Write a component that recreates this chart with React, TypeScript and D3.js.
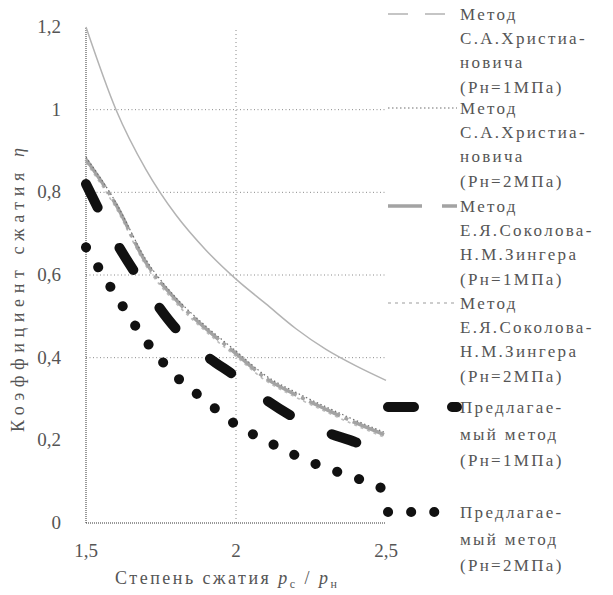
import React, { useRef, useEffect } from 'react';
import * as d3 from 'd3';

// compression ratio p_c / p_н
const ratios = [1.5, 1.6, 1.7, 1.8, 1.9, 2.0, 2.1, 2.2, 2.3, 2.4, 2.5];

const khristianovich1 = [1.2, 1.0, 0.855, 0.745, 0.66, 0.59, 0.53, 0.47, 0.42, 0.38, 0.345];
const khristianovich2 = [0.885, 0.775, 0.637, 0.545, 0.476, 0.416, 0.356, 0.316, 0.281, 0.248, 0.218];
const sokolov1 = [0.88, 0.77, 0.63, 0.54, 0.47, 0.41, 0.35, 0.31, 0.275, 0.242, 0.212];
const sokolov2 = [0.872, 0.762, 0.622, 0.532, 0.463, 0.403, 0.344, 0.304, 0.269, 0.236, 0.206];
const proposed1 = [0.82, 0.68, 0.567, 0.47, 0.405, 0.354, 0.298, 0.253, 0.22, 0.195, 0.163];
const proposed2 = [0.667, 0.55, 0.44, 0.355, 0.295, 0.238, 0.199, 0.163, 0.133, 0.109, 0.08];

const legendLabels = [
  ['Метод', 'С.А.Христиа-', 'новича', '(Рн=1МПа)'],
  ['Метод', 'С.А.Христиа-', 'новича', '(Рн=2МПа)'],
  ['Метод', 'Е.Я.Соколова-', 'Н.М.Зингера', '(Рн=1МПа)'],
  ['Метод', 'Е.Я.Соколова-', 'Н.М.Зингера', '(Рн=2МПа)'],
  ['Предлагае-', 'мый метод', '(Рн=1МПа)'],
  ['Предлагае-', 'мый метод', '(Рн=2МПа)'],
];

const yTicks = [0, 0.2, 0.4, 0.6, 0.8, 1, 1.2];
const yGrid = [0.4, 0.6, 0.8, 1];
const xTicks = [1.5, 2, 2.5];

const FONT = 'Liberation Serif, DejaVu Serif, Noto Serif, Tinos, FreeSerif, Times New Roman, Times, serif';
const TEXT = '#555';

const App = () => {
  const svgRef = useRef(null);

  useEffect(() => {
    const svg = d3.select(svgRef.current);
    svg.selectAll('*').remove();

    const width = 613;
    const height = 595;
    const margin = { top: 27, left: 86 };
    const plotW = 300;
    const plotH = 496;

    svg.attr('width', width).attr('height', height);

    const x = d3.scaleLinear().domain([1.5, 2.5]).range([margin.left, margin.left + plotW]);
    const y = d3.scaleLinear().domain([0, 1.2]).range([margin.top + plotH, margin.top]);
    const fmt = (v) => String(v).replace('.', ',');

    // grid
    svg.append('g')
      .selectAll('line')
      .data(yGrid)
      .join('line')
      .attr('x1', x(1.5)).attr('x2', x(2.5))
      .attr('y1', d => y(d)).attr('y2', d => y(d))
      .attr('stroke', '#8a8a8a')
      .attr('stroke-width', 1)
      .attr('stroke-dasharray', '1,2.5');

    svg.append('line')
      .attr('x1', x(2)).attr('x2', x(2))
      .attr('y1', y(0)).attr('y2', y(1.2))
      .attr('stroke', '#8a8a8a')
      .attr('stroke-dasharray', '1,3');

    // axes (dotted, like the scan)
    svg.append('line')
      .attr('x1', x(1.5)).attr('x2', x(1.5))
      .attr('y1', y(0)).attr('y2', y(1.2))
      .attr('stroke', '#333')
      .attr('stroke-dasharray', '1,1');
    svg.append('line')
      .attr('x1', x(1.5)).attr('x2', x(2.5))
      .attr('y1', y(0)).attr('y2', y(0))
      .attr('stroke', '#333')
      .attr('stroke-dasharray', '1,1');

    // tick labels
    svg.append('g')
      .selectAll('text')
      .data(yTicks)
      .join('text')
      .attr('x', 61)
      .attr('y', d => y(d) + 6)
      .attr('text-anchor', 'end')
      .attr('font-family', FONT)
      .attr('font-size', 19)
      .attr('fill', TEXT)
      .text(fmt);

    svg.append('g')
      .selectAll('text')
      .data(xTicks)
      .join('text')
      .attr('x', d => x(d))
      .attr('y', 557)
      .attr('text-anchor', 'middle')
      .attr('font-family', FONT)
      .attr('font-size', 19)
      .attr('fill', TEXT)
      .text(fmt);

    // series
    const series = [
      { values: khristianovich1, color: '#b3b3b3', w: 1.5, dash: null, legendDash: '20,17', cap: 'butt' },
      { values: sokolov2, color: '#bdbdbd', w: 1.6, dash: '3,4', legendDash: '3,4', cap: 'butt' },
      { values: sokolov1, color: '#a3a3a3', w: 3.5, dash: '34,5,4,5', legendDash: '34,20', cap: 'butt' },
      { values: khristianovich2, color: '#6e6e6e', w: 1.2, dash: '1.5,2.5', legendDash: '1.5,2.5', cap: 'butt' },
      { values: proposed1, color: '#111', w: 10, dash: '26,46', legendDash: '26,38', cap: 'round' },
      { values: proposed2, color: '#111', w: 10, dash: '0.1,23', legendDash: '0.1,23', cap: 'round' },
    ];
    const legendOrder = [khristianovich1, khristianovich2, sokolov1, sokolov2, proposed1, proposed2];

    const line = d3.line()
      .x((d, i) => x(ratios[i]))
      .y(d => y(d))
      .curve(d3.curveMonotoneX);

    svg.append('g')
      .selectAll('path')
      .data(series)
      .join('path')
      .attr('d', d => line(d.values))
      .attr('fill', 'none')
      .attr('stroke', d => d.color)
      .attr('stroke-width', d => d.w)
      .attr('stroke-dasharray', d => d.dash)
      .attr('stroke-linecap', d => d.cap);

    // legend
    const entryTops = [14, 108, 206, 303, 407, 512];
    const legend = svg.append('g');
    legendOrder.forEach((vals, i) => {
      const s = series.find(d => d.values === vals);
      const y0 = entryTops[i];
      const rowH = i < 4 ? 24.2 : 26.5;
      const g = legend.append('g');
      g.append('line')
        .attr('x1', 388).attr('x2', 457)
        .attr('y1', y0).attr('y2', y0)
        .attr('stroke', s.color)
        .attr('stroke-width', s.w)
        .attr('stroke-dasharray', s.legendDash)
        .attr('stroke-linecap', s.cap);
      g.append('g')
        .selectAll('text')
        .data(legendLabels[i])
        .join('text')
        .attr('x', 460)
        .attr('y', (d, j) => y0 + 6 + j * rowH)
        .attr('font-family', FONT)
        .attr('font-size', 17)
        .attr('letter-spacing', 2.3)
        .attr('fill', TEXT)
        .text(d => d);
    });

    // axis titles
    const xt = svg.append('text')
      .attr('x', 226)
      .attr('y', 584)
      .attr('text-anchor', 'middle')
      .attr('textLength', 222)
      .attr('lengthAdjust', 'spacing')
      .attr('font-family', FONT)
      .attr('font-size', 18)
      .attr('fill', TEXT);
    xt.append('tspan').text('Степень сжатия ');
    xt.append('tspan').attr('font-style', 'italic').text('p');
    xt.append('tspan').attr('font-size', 12).attr('dy', 4).text('c');
    xt.append('tspan').attr('dy', -4).text(' / ');
    xt.append('tspan').attr('font-style', 'italic').text('p');
    xt.append('tspan').attr('font-size', 12).attr('dy', 4).text('н');

    const yt = svg.append('text')
      .attr('transform', 'translate(24,290) rotate(-90)')
      .attr('text-anchor', 'middle')
      .attr('textLength', 284)
      .attr('lengthAdjust', 'spacing')
      .attr('font-family', FONT)
      .attr('font-size', 18)
      .attr('fill', TEXT);
    yt.append('tspan').text('Коэффициент сжатия ');
    yt.append('tspan').attr('font-style', 'italic').text('η');
  }, []);

  return <svg ref={svgRef} style={{ position: 'absolute', left: 0, top: 0, background: '#fff' }}></svg>;
};

export default App;
